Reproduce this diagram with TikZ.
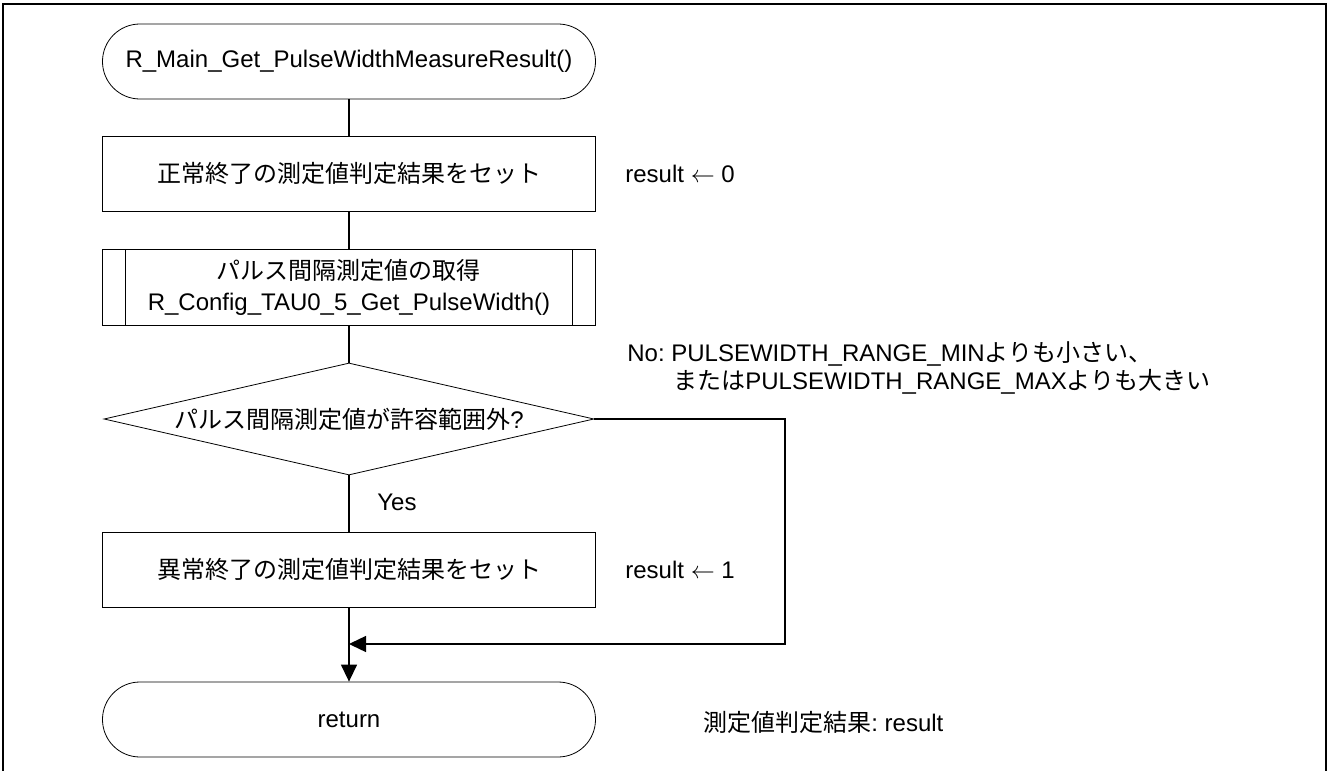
\documentclass[tikz,border=0pt]{standalone}
\usepackage{fontspec}
\setmainfont{Liberation Sans}
\newfontfamily\jp{Noto Sans CJK JP}
\usepackage{tikz}
\usetikzlibrary{arrows.meta,shapes.geometric,positioning,calc}

\begin{document}
\frenchspacing
\begin{tikzpicture}[x=0.5pt,y=-0.5pt]
    \tikzstyle{every node}=[font=\fontsize{12pt}{15.5pt}\selectfont]
    \tikzstyle{term}=[draw, line width=0.4pt, rounded corners=18.7pt, minimum width=246.5pt, minimum height=37.5pt]
    \tikzstyle{proc}=[draw, line width=0.4pt, minimum width=246.5pt, minimum height=37.5pt, align=center]
    \tikzstyle{subproc}=[proc, minimum height=38pt, path picture={
        \draw[line width=0.4pt] ([xshift=11.5pt]path picture bounding box.north west) -- ([xshift=11.5pt]path picture bounding box.south west)
                                ([xshift=-11.5pt]path picture bounding box.north east) -- ([xshift=-11.5pt]path picture bounding box.south east);}]
    \tikzstyle{decision}=[diamond, draw, line width=0.4pt, aspect=4.4, inner sep=0pt, minimum width=245pt, minimum height=56pt]
    \tikzstyle{flow}=[line width=0.7pt]
    \tikzstyle{arrow}=[flow, -{Triangle[length=8.5pt,width=8pt]}]
    \tikzstyle{note}=[anchor=west, inner sep=0pt]

    \useasboundingbox (0,0) rectangle (1330,771);
    % frame
    \draw[line width=1pt] (3,771) -- (3,4) -- (1326,4) -- (1326,771);

    % flow
    \node[term]     (start) at (349,61.5)  {R\_Main\_Get\_PulseWidthMeasureResult()};
    \node[proc]     (set0)  at (349,173.5) {\jp 正常終了の測定値判定結果をセット};
    \node[subproc]  (get)   at (349,287)   {{\jp パルス間隔測定値の取得}\\R\_Config\_TAU0\_5\_Get\_PulseWidth()};
    \node[decision] (check) at (349,419)   {{\jp パルス間隔測定値が許容範囲外}?};
    \node[proc]     (set1)  at (349,569.5) {\jp 異常終了の測定値判定結果をセット};
    \node[term]     (ret)   at (349,719.5) {return};

    % notes
    \node[note] (res0) at (625,173.5) {result $\leftarrow$ 0};
    \node[note] (res1) at (625,569.5) {result $\leftarrow$ 1};
    \node[note] (resret) at (703,722) {{\jp 測定値判定結果}: result};
    \node[note, anchor=north west, align=left, font=\fontsize{12pt}{14pt}\selectfont] (nolbl) at (627,341)
        {No: PULSEWIDTH\_RANGE\_MIN{\jp よりも小さい、}\\\hspace{23pt}{\jp または}PULSEWIDTH\_RANGE\_MAX{\jp よりも大きい}};
    \node[note] (yes) at (377,502) {Yes};

    \coordinate (rgt)  at (785,419);
    \coordinate (join) at (349,644);

    \draw[flow] (start) -- (set0);
    \draw[flow] (set0) -- (get);
    \draw[flow] (get) -- (check);
    \draw[flow] (check) -- (set1);
    \draw[arrow] (set1) -- (ret);
    \draw[arrow] (check.east) -- (rgt) -- (rgt |- join) -- (join);
\end{tikzpicture}
\end{document}
